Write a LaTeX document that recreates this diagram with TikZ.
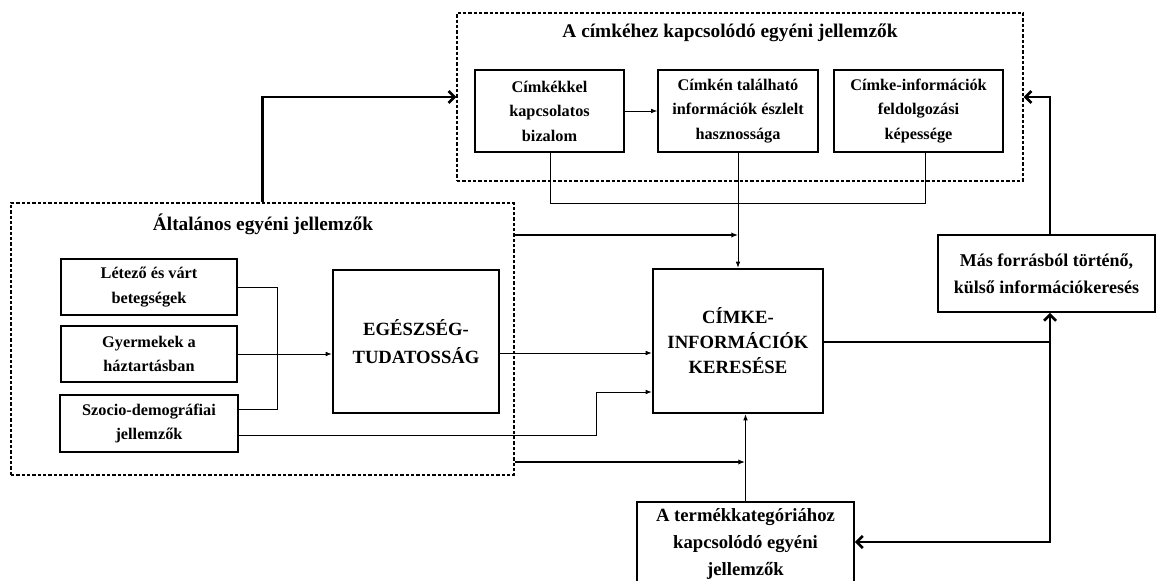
\documentclass[tikz,border=0pt]{standalone}
\usepackage{fontspec}
\setmainfont{Liberation Serif}
\usetikzlibrary{arrows.meta}
\begin{document}
\begin{tikzpicture}[x=0.75pt,y=-0.75pt,
  box/.style={draw,line width=1.3pt,align=center,inner sep=0pt,
    font=\fontsize{12.2}{18.4}\selectfont\bfseries},
  bigbox/.style={draw,line width=2pt,align=center,inner sep=0pt,
    font=\fontsize{14}{19}\selectfont\bfseries},
  dashbox/.style={draw,line width=0.9pt,dash pattern=on 2.5pt off 1.5pt,inner sep=0pt},
  title/.style={font=\fontsize{14.5}{16}\selectfont\bfseries,inner sep=0pt},
  thin/.style={line width=0.6pt,-{Latex[length=4.5pt,width=3.5pt]}},
  midarr/.style={line width=1.5pt,-{Latex[length=5pt,width=4pt]}},
  thinline/.style={line width=0.6pt},
  thickarr/.style={line width=2pt,-{Straight Barb[length=4.5pt,width=9pt,line width=2pt]}},
  thickline/.style={line width=2pt}]
\useasboundingbox (0,0) rectangle (1157,581);
\clip (0,0) rectangle (1157,581);
% dashed groups
\node[dashbox,minimum width=424.5pt,minimum height=126pt] (topdash) at (740,97) {};
\node[title] (toptitle) at (730,33) {A címkéhez kapcsolódó egyéni jellemzők};
\node[dashbox,minimum width=377.25pt,minimum height=204pt] (leftdash) at (262.5,339) {};
\node[title] (lefttitle) at (263,224) {Általános egyéni jellemzők};
% top boxes
\node[box,minimum width=111.75pt,minimum height=61.5pt] (b1) at (549.5,111) {Címkékkel\\kapcsolatos\\bizalom};
\node[box,minimum width=120pt,minimum height=61.5pt] (b2) at (738,111) {Címkén található\\információk észlelt\\hasznossága};
\node[box,minimum width=126.75pt,minimum height=61.5pt] (b3) at (918.5,111) {Címke-információk\\feldolgozási\\képessége};
% left boxes
\node[box,minimum width=132pt,minimum height=42pt] (l1) at (149,287) {Létező és várt\\betegségek};
\node[box,minimum width=132pt,minimum height=42pt] (l2) at (149,354) {Gyermekek a\\háztartásban};
\node[box,minimum width=133.5pt,minimum height=42.75pt] (l3) at (149,423.5) {Szocio-demográfiai\\jellemzők};
% main boxes
\node[bigbox,font=\fontsize{14}{20}\selectfont\bfseries,minimum width=124.5pt,minimum height=107.25pt] (eg) at (416,341.5) {\raisebox{-1.5pt}{\shortstack{EGÉSZSÉG-\\[5.5pt]TUDATOSSÁG}}};
\node[bigbox,font=\fontsize{14}{18.75}\selectfont\bfseries,minimum width=127.5pt,minimum height=108pt] (cimke) at (738,341) {CÍMKE-\\INFORMÁCIÓK\\KERESÉSE};
\node[box,font=\fontsize{13.5}{20}\selectfont\bfseries,minimum width=162.75pt,minimum height=57.75pt] (mas) at (1046.5,273.5) {Más forrásból történő,\\külső információkeresés};
\node[box,font=\fontsize{14}{20}\selectfont\bfseries,minimum width=162.75pt,minimum height=63pt] (termek) at (745.5,544) {A termékkategóriához\\kapcsolódó egyéni\\jellemzők};
% coordinates
\coordinate (jl) at (550,203);
\coordinate (jr) at (925,203);
\coordinate (br) at (277,0);
\coordinate (col) at (1050,0);
% top connectors
\draw[thin] (b1.east) -- (b2.west);
\draw[thinline] (b1.south -| jl) -- (jl) -- (jr) -- (b3.south -| jr);
\draw[thin] (b2.south) -- (cimke.north);
\draw[thickarr] (leftdash.north) |- (topdash.west);
\coordinate (a1) at (738,235);
\draw[midarr] (leftdash.east |- a1) -- (a1);
% left bracket
\coordinate (l3u) at (238,409);
\draw[thinline] (l1.east) -| (br |- l3u) -- (l3u);
\draw[thin] (l2.east) -- (l2.east -| eg.west);
\coordinate (e1) at (499,353);
\draw[thin] (e1) -- (e1 -| cimke.west);
\coordinate (l3d) at (238,435);
\coordinate (s2) at (596,392);
\draw[thin] (l3d) -| (s2) -- (s2 -| cimke.west);
\coordinate (a2) at (745,462);
\draw[midarr] (leftdash.east |- a2) -- (a2);
\draw[thin] (termek.north) -- (termek.north |- cimke.south);
% right side
\coordinate (c1) at (823,342);
\draw[thickline] (c1) -- (c1 -| col);
\coordinate (corner) at (1050,542);
\draw[line width=2pt,{Straight Barb[length=4.5pt,width=9pt,line width=2pt]}-{Straight Barb[length=4.5pt,width=9pt,line width=2pt]}] (mas.south -| col) -- (corner) -- (corner -| termek.east);
\draw[thickarr] (mas.north -| col) |- (topdash.east);
\end{tikzpicture}
\end{document}
